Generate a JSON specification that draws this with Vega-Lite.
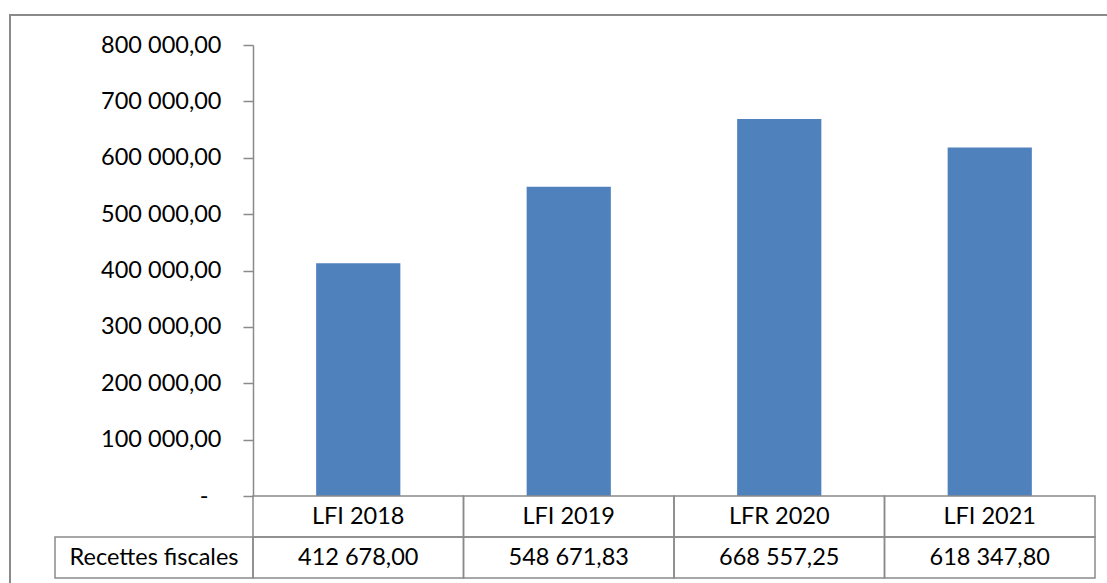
{
  "$schema": "https://vega.github.io/schema/vega-lite/v6.json",
  "width": 1100,
  "height": 575,
  "autosize": {"type": "none"},
  "padding": {"left": 10, "top": 15, "right": 0, "bottom": 0},
  "config": {
    "locale": {"number": {"decimal": ",", "thousands": " ", "grouping": [3], "currency": ["", " €"]}},
    "view": {"stroke": "#8a8a8a", "strokeWidth": 2},
    "font": "Lato",
    "text": {"font": "Lato", "fontSize": 23.5, "color": "#000000"}
  },
  "data": {"values": [
    {"cat": "LFI 2018", "value": 412678.00},
    {"cat": "LFI  2019", "value": 548671.83},
    {"cat": "LFR 2020", "value": 668557.25},
    {"cat": "LFI 2021", "value": 618347.80}
  ]},
  "layer": [
    {
      "mark": {"type": "bar", "color": "#4F81BD", "width": {"band": 0.4}},
      "encoding": {
        "x": {"field": "cat", "type": "nominal", "sort": null, "axis": null,
              "scale": {"range": [243, 1085], "paddingInner": 0, "paddingOuter": 0}},
        "y": {"field": "value", "type": "quantitative",
              "scale": {"domain": [0, 800000], "range": [481, 30], "nice": false},
              "axis": {"title": null, "values": [0, 100000, 200000, 300000, 400000, 500000, 600000, 700000, 800000],
                       "format": ",.2f",
                       "labelExpr": "datum.value == 0 ? '-' : datum.label",
                       "offset": -243, "grid": false,
                       "domainColor": "#8a8a8a", "domainWidth": 1.5, "tickColor": "#8a8a8a", "tickWidth": 1.5, "tickSize": 10,
                       "labelPadding": {"condition": {"test": "datum.value == 0", "value": 35}, "value": 22},
                       "labelFontSize": 23.5, "labelColor": "#000000", "labelFont": "Lato"}}
      }
    },
    {
      "encoding": {
        "x": {"field": "cat", "type": "nominal", "sort": null, "axis": null,
              "scale": {"range": [243, 1085], "paddingInner": 0, "paddingOuter": 0}}
      },
      "layer": [
        {
          "mark": {"type": "rect", "fill": "#ffffff", "fillOpacity": 0, "stroke": "#8a8a8a", "strokeWidth": 1.5},
          "encoding": {"y": {"datum": "c", "type": "nominal", "axis": null,
                             "scale": {"domain": ["c", "v"], "range": [481, 563], "paddingInner": 0, "paddingOuter": 0}}}
        },
        {
          "mark": {"type": "rect", "fill": "#ffffff", "fillOpacity": 0, "stroke": "#8a8a8a", "strokeWidth": 1.5},
          "encoding": {"y": {"datum": "v", "type": "nominal", "axis": null}}
        },
        {
          "mark": {"type": "text", "baseline": "middle", "align": "center"},
          "encoding": {"y": {"datum": "c", "type": "nominal", "axis": null}, "text": {"field": "cat"}}
        },
        {
          "mark": {"type": "text", "baseline": "middle", "align": "center"},
          "encoding": {"y": {"datum": "v", "type": "nominal", "axis": null},
                       "text": {"field": "value", "type": "quantitative", "format": ",.2f"}}
        }
      ]
    },
    {
      "data": {"values": [{"label": "Recettes fiscales"}]},
      "encoding": {
        "x": {"field": "label", "type": "nominal", "axis": null,
              "scale": {"range": [45, 243], "paddingInner": 0, "paddingOuter": 0}},
        "y": {"datum": "v", "type": "nominal", "axis": null,
              "scale": {"domain": ["c", "v"], "range": [481, 563], "paddingInner": 0, "paddingOuter": 0}}
      },
      "layer": [
        {"mark": {"type": "rect", "fill": "#ffffff", "fillOpacity": 0, "stroke": "#8a8a8a", "strokeWidth": 1.5}},
        {"mark": {"type": "text", "baseline": "middle", "align": "center"}, "encoding": {"text": {"field": "label"}}}
      ]
    }
  ],
  "resolve": {"scale": {"x": "independent", "y": "independent"}}
}
